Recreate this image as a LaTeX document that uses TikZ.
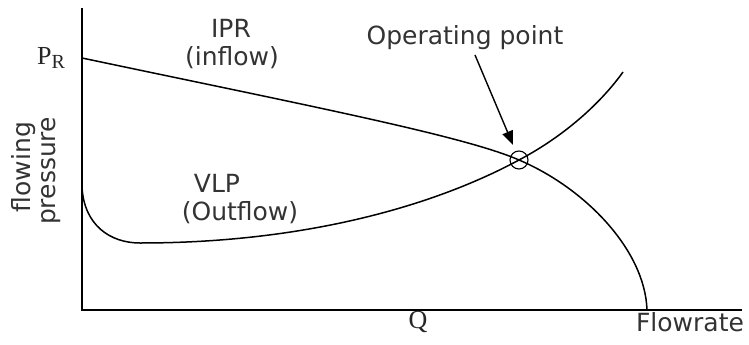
\documentclass[tikz,border=0pt]{standalone}
\usepackage{fontspec}
\setmainfont{DejaVu Sans}
\newfontfamily\serifR{Liberation Serif}
\usetikzlibrary{arrows.meta}
\begin{document}
\begin{tikzpicture}[x=1pt,y=-1pt,
  curve/.style={line width=1.5pt},
  axisline/.style={line width=1.6pt},
  lbl/.style={inner sep=0pt,text=black!80,font=\fontsize{25}{28}\selectfont},
  serlbl/.style={inner sep=0pt,text=black!85,font=\serifR\fontsize{26}{28}\selectfont}]
\useasboundingbox (0,0) rectangle (749,345);
% axes
\coordinate (O) at (82,310);
\coordinate (ytop) at (82,8);
\coordinate (xend) at (742,310);
\draw[axisline] (ytop) -- (O) -- (xend);
% IPR
\coordinate (pr) at (82,58);
\coordinate (op) at (519,160);
\coordinate (aof) at (647,310);
\draw[curve] (pr) .. controls (300,104) and (465,136) .. (op)
  .. controls (585,188) and (645,250) .. (aof);
% VLP
\coordinate (v0) at (82,187);
\coordinate (vmin) at (140,243);
\coordinate (vend) at (623,72);
\draw[curve] (v0) .. controls (84,225) and (110,243) .. (vmin)
  .. controls (300,243) and (430,208) .. (op)
  .. controls (568,134) and (603,100) .. (vend);
% operating point marker
\node[draw,circle,line width=1.1pt,minimum size=18pt,inner sep=0pt] (opc) at (op) {};
% labels
\node[lbl] (ipr) at (231,28) {IPR};
\node[lbl] (inflow) at (232,58) {(inflow)};
\node[lbl] (vlp) at (217,183) {VLP};
\node[lbl] (outflow) at (240,213) {(Outflow)};
\node[lbl] (oplbl) at (465,38) {Operating point};
\node[lbl,rotate=90] (flowing) at (24,167) {flowing};
\node[lbl,rotate=90] (pressure) at (51,171) {pressure};
\node[lbl] (flowrate) at (690,322) {Flowrate};
\node[serlbl] (q) at (418,322) {Q};
\node[serlbl,anchor=base west] (prl) at (37,65) {P\raisebox{-0.12em}{\fontsize{20}{22}\selectfont R}};
% arrow
\coordinate (arrs) at (475,55);
\draw[line width=1.4pt,-{Triangle[length=14pt,width=11pt]}] (arrs) -- (513,145);
\end{tikzpicture}
\end{document}
